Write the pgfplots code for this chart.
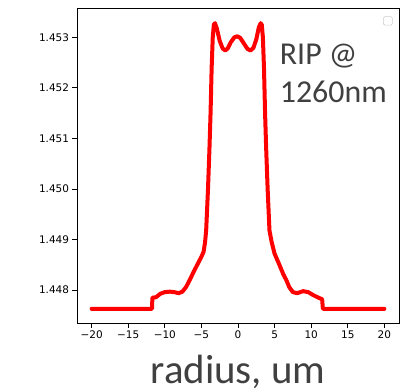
\documentclass[border=0pt]{standalone}
\usepackage{pgfplots}
\pgfplotsset{compat=1.18}
\usepackage{fontspec}
\setmainfont{DejaVu Sans}
\newfontfamily\carlito{Carlito}
\definecolor{annot}{HTML}{404040}
\definecolor{legbox}{HTML}{CCCCCC}
\begin{document}
\begin{tikzpicture}
\path (-77bp,-69bp) rectangle (329bp,323bp);
\begin{axis}[
  at={(0,0)}, anchor=south west,
  scale only axis,
  width=322bp, height=315bp,
  xmin=-22, xmax=22,
  ymin=1.44735, ymax=1.45358,
  xtick={-20,-15,-10,-5,0,5,10,15,20},
  xticklabels={−20,−15,−10,−5,0,5,10,15,20},
  ytick={1.448,1.449,1.450,1.451,1.452,1.453},
  scaled y ticks=false,
  yticklabel style={/pgf/number format/.cd, fixed, precision=3, fixed zerofill, assume math mode=true},
  xticklabel style={/pgf/number format/assume math mode=true},
  tick label style={font=\fontsize{10.5}{12}\selectfont},
  tick align=outside,
  tick pos=left,
  major tick length=4.5bp,
  axis line style={line width=0.8bp},
  every tick/.style={line width=0.8bp, black},
  xlabel={\carlito\fontsize{41}{44}\selectfont radius, um},
  xlabel style={at={(axis description cs:0.5,0)}, anchor=base, yshift=-60bp, text=annot},
  clip=false,
]
\addplot[red, line width=4bp, line join=round, line cap=round] coordinates {
(-20,1.44763)
(-11.75,1.44763)
(-11.7,1.44785)
(-11.2,1.44786)
(-10.6,1.44793)
(-10.0,1.44796)
(-9.3,1.44797)
(-8.7,1.44796)
(-8.1,1.44794)
(-7.6,1.44797)
(-7.1,1.44806)
(-6.6,1.44820)
(-6.0,1.44838)
(-5.5,1.44852)
(-5.0,1.44866)
(-4.7,1.44876)
(-4.5,1.44895)
(-4.35,1.44918)
(-4.1,1.45000)
(-3.9,1.45080)
(-3.75,1.45150)
(-3.6,1.45240)
(-3.45,1.45300)
(-3.3,1.45325)
(-3.15,1.45328)
(-2.9,1.45318)
(-2.5,1.45293)
(-2.1,1.45278)
(-1.75,1.45274)
(-1.4,1.45278)
(-1.0,1.45290)
(-0.5,1.45300)
(-0.1,1.45302)
(0.3,1.45299)
(0.8,1.45288)
(1.3,1.45277)
(1.7,1.45274)
(2.1,1.45279)
(2.5,1.45296)
(2.85,1.45320)
(3.1,1.45328)
(3.25,1.45325)
(3.4,1.45300)
(3.55,1.45240)
(3.7,1.45150)
(3.85,1.45080)
(4.05,1.45000)
(4.3,1.44918)
(4.6,1.44895)
(5.0,1.44872)
(5.6,1.44852)
(6.2,1.44831)
(6.6,1.44820)
(7.0,1.44806)
(7.5,1.44796)
(8.1,1.44794)
(8.9,1.44798)
(9.6,1.44796)
(10.3,1.44790)
(11.0,1.44785)
(11.5,1.44782)
(11.6,1.44763)
(20,1.44763)
};
\node[anchor=base west, text=annot, font=\carlito\fontsize{32}{34}\selectfont, inner sep=0pt] at (axis cs:5.7,1.45247) {RIP @};
\node[anchor=base west, text=annot, font=\carlito\fontsize{32}{34}\selectfont, inner sep=0pt] at (axis cs:5.7,1.45171) {1260nm};
\draw[legbox, line width=0.6bp, rounded corners=1.5bp] (axis cs:19.86,1.45324) rectangle (axis cs:21.09,1.45341);
\end{axis}
\end{tikzpicture}
\end{document}
